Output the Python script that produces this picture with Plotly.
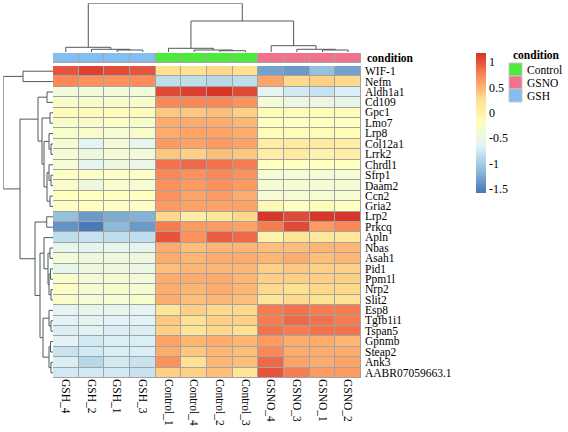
import plotly.graph_objects as go
import numpy as np

# ---------------- data ----------------
genes = ["WIF-1", "Nefm", "Aldh1a1", "Cd109", "Gpc1", "Lmo7", "Lrp8", "Col12a1", "Lrrk2",
         "Chrdl1", "Sfrp1", "Daam2", "Ccn2", "Gria2", "Lrp2", "Prkcq", "Apln", "Nbas",
         "Asah1", "Pid1", "Ppm1l", "Nrp2", "Slit2", "Esp8", "Tgfb1i1", "Tspan5", "Gpnmb",
         "Steap2", "Ank3", "AABR07059663.1"]
samples = ["GSH_4", "GSH_2", "GSH_1", "GSH_3", "Control_1", "Control_4", "Control_2",
           "Control_3", "GSNO_4", "GSNO_3", "GSNO_1", "GSNO_2"]
sample_condition = ["GSH"] * 4 + ["Control"] * 4 + ["GSNO"] * 4
conditions = ["Control", "GSNO", "GSH"]
condition_colors = ["#4DEA3B", "#F0728F", "#84BDF0"]

values = [
    [1.00, 1.10, 1.05, 1.00, 0.25, 0.25, 0.30, 0.25, -1.30, -1.35, -1.10, -1.30],
    [0.75, 0.70, 0.70, 0.72, -0.85, -0.85, -0.90, -0.85, 0.60, 0.30, 0.35, 0.30],
    [-0.40, -0.40, -0.40, -0.40, 1.05, 1.10, 1.15, 1.05, -0.60, -0.75, -0.80, -0.70],
    [-0.30, -0.30, -0.30, -0.30, 0.75, 0.75, 0.75, 0.70, -0.40, -0.50, -0.50, -0.55],
    [-0.15, -0.15, -0.15, -0.15, 0.40, 0.40, 0.45, 0.35, -0.15, -0.15, -0.15, -0.15],
    [-0.30, -0.30, -0.25, -0.30, 0.55, 0.55, 0.55, 0.50, -0.20, -0.20, -0.20, -0.20],
    [-0.30, -0.30, -0.35, -0.30, 0.55, 0.60, 0.60, 0.55, -0.15, -0.15, -0.15, -0.15],
    [-0.35, -0.60, -0.40, -0.55, 0.65, 0.60, 0.65, 0.60, 0.05, 0.10, 0.10, 0.05],
    [-0.35, -0.45, -0.40, -0.40, 0.40, 0.35, 0.45, 0.40, 0.05, 0.10, 0.00, 0.05],
    [-0.35, -0.60, -0.45, -0.50, 0.85, 0.90, 0.85, 0.80, -0.20, -0.20, -0.20, -0.20],
    [-0.25, -0.25, -0.25, -0.25, 0.75, 0.70, 0.75, 0.70, -0.35, -0.35, -0.35, -0.35],
    [-0.30, -0.45, -0.30, -0.35, 0.70, 0.65, 0.70, 0.65, -0.35, -0.35, -0.35, -0.35],
    [-0.20, -0.20, -0.20, -0.20, 0.70, 0.60, 0.65, 0.55, -0.35, -0.35, -0.35, -0.35],
    [-0.25, -0.20, -0.25, -0.25, 0.65, 0.60, 0.60, 0.60, -0.10, -0.20, -0.15, -0.20],
    [-1.10, -1.35, -1.25, -1.20, 0.30, 0.05, 0.15, 0.30, 1.15, 1.05, 1.15, 1.15],
    [-1.40, -1.55, -1.15, -1.35, 0.80, 0.65, 0.65, 0.60, 0.80, 1.05, 0.65, 0.75],
    [-0.85, -0.80, -0.85, -0.85, 1.00, 0.70, 0.95, 0.90, 0.00, 0.20, 0.15, 0.15],
    [-0.55, -0.60, -0.55, -0.60, 0.55, 0.45, 0.50, 0.50, 0.45, 0.45, 0.50, 0.50],
    [-0.40, -0.45, -0.45, -0.45, 0.55, 0.50, 0.55, 0.55, 0.50, 0.55, 0.45, 0.50],
    [-0.55, -0.45, -0.45, -0.50, 0.45, 0.50, 0.50, 0.50, 0.35, 0.40, 0.35, 0.35],
    [-0.30, -0.40, -0.35, -0.40, 0.55, 0.55, 0.55, 0.50, 0.35, 0.35, 0.35, 0.35],
    [-0.25, -0.35, -0.30, -0.35, 0.55, 0.50, 0.55, 0.50, 0.30, 0.25, 0.30, 0.30],
    [-0.30, -0.35, -0.35, -0.30, 0.55, 0.45, 0.50, 0.45, 0.20, 0.30, 0.25, 0.25],
    [-0.60, -0.55, -0.55, -0.60, 0.20, 0.35, 0.30, 0.30, 0.80, 0.85, 0.80, 0.80],
    [-0.65, -0.60, -0.65, -0.65, 0.40, 0.25, 0.35, 0.35, 0.80, 0.90, 0.85, 0.80],
    [-0.70, -0.65, -0.70, -0.70, 0.35, 0.20, 0.30, 0.25, 0.85, 0.80, 0.85, 0.85],
    [-0.65, -0.75, -0.70, -0.70, 0.60, 0.50, 0.55, 0.50, 0.65, 0.55, 0.55, 0.50],
    [-0.80, -0.75, -0.70, -0.70, 0.55, 0.40, 0.50, 0.45, 0.75, 0.55, 0.55, 0.55],
    [-0.70, -0.90, -0.75, -0.80, 0.70, 0.25, 0.50, 0.45, 0.90, 0.60, 0.55, 0.60],
    [-0.75, -0.75, -0.75, -0.80, 0.35, 0.35, 0.45, 0.20, 1.00, 0.80, 0.65, 0.65],
]

# dendrograms: node = leaf index or (left, right, merge height)
col_tree = ((0, (1, (2, 3, 2.0), 2.7), 4.7),
            ((4, (5, (6, 7, 1.3), 2.0), 3.7), (8, (9, (10, 11, 2.0), 2.7), 6.3), 31.0),
            48.7)

row_tree = ((0, 1, 30.0),
            (((2, 3, 6.0),
              ((4, 5, 3.0),
               ((6, (7, 8, 2.0), 4.0), ((9, (10, 11, 2.0), 4.0), (12, 13, 3.0), 6.0), 9.0),
               11.0), 15.0),
             ((14, 15, 6.3),
              ((16, ((17, 18, 3.0), ((19, 20, 2.5), (21, 22, 2.0), 4.0), 5.0), 9.0),
               ((23, (24, 25, 2.0), 4.0), ((26, 27, 2.5), (28, 29, 2.0), 4.0), 10.0), 13.0),
              18.0),
             33.0),
            49.7)

colorbar_ticks = [1, 0.5, 0, -0.5, -1, -1.5]
zmin, zmax = -1.58, 1.18
palette = ["#4575B4", "#91BFDB", "#E0F3F8", "#FFFFBF", "#FEE090", "#FC8D59", "#D73027"]

# ---------------- layout geometry (pixels) ----------------
W, H = 568, 432
def px_x(x):
    return x / W
def px_y(y):
    return 1 - y / H

hm_x0, hm_x1 = 53, 361
hm_y0, hm_y1 = 66, 378
ann_y0, ann_y1 = 53, 63
cd_y0, cd_y1 = 3.3, 52
rd_x0, rd_x1 = 3.3, 53
grid_col = "#A3A3A3"
line_col = "#4F5A5A"
font_family = "Liberation Serif"
fs = 11.5

fig = go.Figure()

z = np.array(values)
nrow, ncol = z.shape

# grey backing rectangles that show through the cell gaps as borders
fig.add_shape(type="rect", xref="x", yref="y", x0=-0.5, x1=ncol - 0.5, y0=-0.5, y1=nrow - 0.5,
              fillcolor=grid_col, line=dict(color=grid_col, width=1), layer="below")
fig.add_shape(type="rect", xref="x", yref="y4", x0=-0.5, x1=ncol - 0.5, y0=-0.5, y1=0.5,
              fillcolor=grid_col, line=dict(color=grid_col, width=1), layer="below")

# main heatmap
cs = [[i / (len(palette) - 1), c] for i, c in enumerate(palette)]
fig.add_trace(go.Heatmap(
    z=z, x=list(range(ncol)), y=list(range(nrow)), colorscale=cs, zmin=zmin, zmax=zmax,
    xgap=1, ygap=1, xaxis="x", yaxis="y", hoverinfo="skip",
    colorbar=dict(x=px_x(476), xanchor="left", xpad=0, y=px_y(53), yanchor="top", ypad=0,
                  len=140, lenmode="pixels", thickness=10, thicknessmode="pixels",
                  outlinewidth=0, tickvals=colorbar_ticks,
                  ticktext=[("%g" % t) for t in colorbar_ticks], ticks="",
                  tickfont=dict(family=font_family, size=12, color="black"))))

# annotation bar
cond_idx = [conditions.index(c) for c in sample_condition]
ncond = len(conditions)
ann_cs = []
for i, c in enumerate(condition_colors):
    ann_cs.append([i / ncond, c])
    ann_cs.append([(i + 1) / ncond, c])
fig.add_trace(go.Heatmap(
    z=[cond_idx], x=list(range(ncol)), y=[0], colorscale=ann_cs, zmin=-0.5, zmax=ncond - 0.5,
    showscale=False, xgap=1, ygap=1, xaxis="x", yaxis="y4", hoverinfo="skip"))

# dendrogram segments
def dendro(node):
    """returns (position, height, segments)"""
    if isinstance(node, int):
        return float(node), 0.0, []
    l, r, h = node
    pl, hl, sl = dendro(l)
    pr, hr, sr = dendro(r)
    segs = sl + sr + [[(pl, hl), (pl, h), (pr, h), (pr, hr)]]
    return (pl + pr) / 2, h, segs

_, _, csegs = dendro(col_tree)
xs, ys = [], []
for s in csegs:
    for p, h in s:
        xs.append(p); ys.append(h)
    xs.append(None); ys.append(None)
fig.add_trace(go.Scatter(x=xs, y=ys, mode="lines", line=dict(color=line_col, width=1),
                         xaxis="x2", yaxis="y2", hoverinfo="skip", showlegend=False))

_, _, rsegs = dendro(row_tree)
xs, ys = [], []
for s in rsegs:
    for p, h in s:
        xs.append(h); ys.append(p)
    xs.append(None); ys.append(None)
fig.add_trace(go.Scatter(x=xs, y=ys, mode="lines", line=dict(color=line_col, width=1),
                         xaxis="x3", yaxis="y3", hoverinfo="skip", showlegend=False))

col_h = col_tree[2]
row_h = row_tree[2]

fig.update_layout(
    width=W, height=H, margin=dict(l=0, r=0, t=0, b=0),
    paper_bgcolor="white", plot_bgcolor="white", showlegend=False,
    font=dict(family=font_family, size=fs, color="black"),
    xaxis=dict(domain=[px_x(hm_x0), px_x(hm_x1)], range=[-0.5, ncol - 0.5],
               tickvals=list(range(ncol)), ticktext=samples, tickangle=90, ticks="", ticklen=0,
               showgrid=False, zeroline=False, showline=False,
               tickfont=dict(family=font_family, size=fs), anchor="y"),
    yaxis=dict(domain=[px_y(hm_y1), px_y(hm_y0)], range=[nrow - 0.5, -0.5],
               showticklabels=False, ticks="",
               showgrid=False, zeroline=False, showline=False, anchor="x"),
    yaxis4=dict(domain=[px_y(ann_y1), px_y(ann_y0)], range=[-0.5, 0.5], anchor="x",
                showticklabels=False, ticks="",
                showgrid=False, zeroline=False, showline=False),
    xaxis2=dict(domain=[px_x(hm_x0), px_x(hm_x1)], range=[-0.5, ncol - 0.5], anchor="y2",
                visible=False),
    yaxis2=dict(domain=[px_y(cd_y1), px_y(cd_y0)], range=[0, col_h], anchor="x2", visible=False),
    xaxis3=dict(domain=[px_x(rd_x0), px_x(rd_x1)], range=[row_h, 0], anchor="y3", visible=False),
    yaxis3=dict(domain=[px_y(hm_y1), px_y(hm_y0)], range=[nrow - 0.5, -0.5], anchor="x3",
                visible=False),
)

# gene labels (right of heatmap)
for i, g in enumerate(genes):
    fig.add_annotation(x=px_x(hm_x1 + 3), y=i, xref="paper", yref="y", text=g, showarrow=False,
                       xanchor="left", yanchor="middle", borderpad=0,
                       font=dict(family=font_family, size=fs, color="black"))
# annotation row label
fig.add_annotation(x=px_x(hm_x1 + 5), y=0, xref="paper", yref="y4", text="<b>condition</b>",
                   showarrow=False, xanchor="left", yanchor="middle", borderpad=0,
                   font=dict(family=font_family, size=fs, color="black"))

# condition legend
leg_x, leg_y, box = 509, 63, 13
fig.add_annotation(x=px_x(leg_x + 3), y=px_y(leg_y - 1), xref="paper", yref="paper",
                   text="<b>condition</b>", showarrow=False, xanchor="left", yanchor="bottom",
                   borderpad=0, font=dict(family=font_family, size=fs, color="black"))
for i, (c, col) in enumerate(zip(conditions, condition_colors)):
    top = leg_y + i * box
    fig.add_shape(type="rect", xref="paper", yref="paper",
                  x0=px_x(leg_x), x1=px_x(leg_x + box), y0=px_y(top + box), y1=px_y(top),
                  fillcolor=col, line=dict(color="#C8C8C8", width=1))
    fig.add_annotation(x=px_x(leg_x + box + 4), y=px_y(top + box / 2), xref="paper", yref="paper",
                       text=c, showarrow=False, xanchor="left", yanchor="middle", borderpad=0,
                       font=dict(family=font_family, size=fs, color="black"))

fig.write_html("out.html", config={"displayModeBar": False},
               post_script="document.body.style.margin='0';")
